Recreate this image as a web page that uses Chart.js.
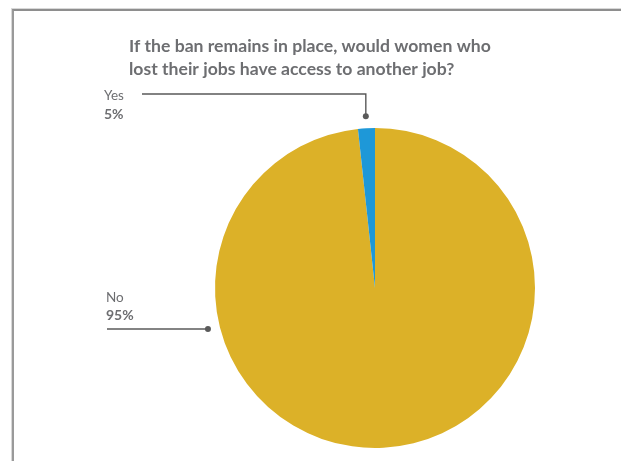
<!DOCTYPE html>
<html>
<head>
<meta charset="utf-8">
<script src="https://cdn.jsdelivr.net/npm/chart.js@4/dist/chart.umd.min.js"></script>
<style>
  html, body { margin: 0; padding: 0; background: #fff; }
  #wrap { position: relative; width: 621px; height: 461px; overflow: hidden; }
  #frame { position: absolute; left: 12px; top: 9px; width: 640px; height: 480px;
           border-top: 2px solid #8e8e8e; border-left: 2px solid #9a9a9a; box-shadow: -1px -1px 0 #d8d8d8; }
  canvas { position: absolute; left: 0; top: 0; }
</style>
</head>
<body>
<div id="wrap">
  <div id="frame"></div>
  <canvas id="c" width="621" height="461"></canvas>
</div>
<script>
// ---- data ----
const categories = ['No', 'Yes'];
const sliceValues = [98.3, 1.7];          // drawn share of each slice
const percentLabels = ['95%', '5%'];      // printed labels
const sliceColors = ['#dcb128', '#1e98d8'];
const titleLines = [
  'If the ban remains in place, would women who',
  'lost their jobs have access to another job?'
];

const textGray = '#6d6e71';

const annotate = {
  id: 'annotate',
  afterDatasetsDraw(chart) {
    const ctx = chart.ctx;
    const meta = chart.getDatasetMeta(0);
    ctx.save();
    // title
    ctx.fillStyle = textGray;
    ctx.font = 'bold 17.6px Lato, "Open Sans", sans-serif';
    ctx.textBaseline = 'alphabetic';
    ctx.textAlign = 'left';
    titleLines.forEach((t, i) => ctx.fillText(t, 129, 52 + i * 23));

    const lineCol = '#5a5a5a';
    // Yes label (slice index 1) – dot above middle of its arc
    const yes = meta.data[1];
    const pYes = yes.getProps(['x', 'y', 'startAngle', 'endAngle', 'outerRadius'], true);
    const midY = (pYes.startAngle + pYes.endAngle) / 2;
    const rr = pYes.outerRadius + 12;
    const dxY = pYes.x + Math.cos(midY) * rr;
    const dyY = pYes.y + Math.sin(midY) * rr;
    ctx.strokeStyle = lineCol; ctx.lineWidth = 1.4;
    ctx.beginPath();
    ctx.moveTo(142, 94); ctx.lineTo(dxY, 94); ctx.lineTo(dxY, dyY);
    ctx.stroke();
    ctx.fillStyle = lineCol;
    ctx.beginPath(); ctx.arc(dxY, dyY, 3, 0, Math.PI * 2); ctx.fill();

    // No label (slice index 0) – dot on the left side of the pie
    const no = meta.data[0];
    const pNo = no.getProps(['x', 'y', 'outerRadius'], true);
    const ang = 166.2 * Math.PI / 180;
    const rN = pNo.outerRadius + 12;
    const dxN = pNo.x + Math.cos(ang) * rN;
    const dyN = pNo.y + Math.sin(ang) * rN;
    ctx.beginPath();
    ctx.moveTo(107, dyN); ctx.lineTo(dxN, dyN);
    ctx.stroke();
    ctx.beginPath(); ctx.arc(dxN, dyN, 3, 0, Math.PI * 2); ctx.fill();

    // label texts
    ctx.fillStyle = textGray;
    ctx.font = '13.5px Lato, "Open Sans", sans-serif';
    ctx.fillText(categories[1], 104, 100);
    ctx.fillText(categories[0], 106, 302);
    ctx.font = 'bold 14px Lato, "Open Sans", sans-serif';
    ctx.fillText(percentLabels[1], 104, 119);
    ctx.fillText(percentLabels[0], 106, 320);
    ctx.restore();
  }
};

new Chart(document.getElementById('c'), {
  type: 'pie',
  data: {
    labels: categories,
    datasets: [{
      data: sliceValues,
      backgroundColor: sliceColors,
      borderWidth: 0
    }]
  },
  options: {
    responsive: false,
    animation: false,
    layout: { padding: { left: 215, right: 86, top: 128, bottom: 13 } },
    plugins: { legend: { display: false }, tooltip: { enabled: false } }
  },
  plugins: [annotate]
});
</script>
</body>
</html>
